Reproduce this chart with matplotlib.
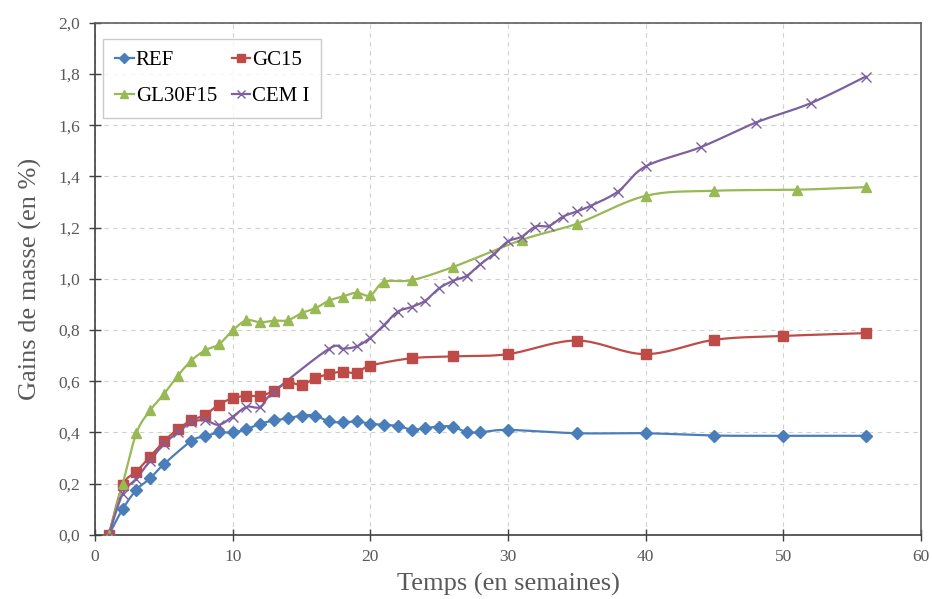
import numpy as np
import matplotlib
matplotlib.use("Agg")
import matplotlib.pyplot as plt
from matplotlib.ticker import FuncFormatter, MultipleLocator

plt.rcParams['font.family'] = ['Liberation Serif', 'DejaVu Serif']

ref_x = [1, 2, 3, 4, 5, 7, 8, 9, 10, 11, 12, 13, 14, 15, 16, 17, 18, 19, 20, 21, 22, 23, 24, 25, 26, 27, 28, 30, 35, 40, 45, 50, 56]
ref_y = [0.0, 0.10, 0.176, 0.221, 0.276, 0.367, 0.385, 0.40, 0.40, 0.413, 0.434, 0.447, 0.455, 0.466, 0.466, 0.443, 0.44, 0.443, 0.434, 0.43, 0.426, 0.411, 0.417, 0.423, 0.423, 0.401, 0.401, 0.41, 0.397, 0.397, 0.388, 0.387, 0.387]

gc_x = [1, 2, 3, 4, 5, 6, 7, 8, 9, 10, 11, 12, 13, 14, 15, 16, 17, 18, 19, 20, 23, 26, 30, 35, 40, 45, 50, 56]
gc_y = [0.0, 0.193, 0.247, 0.306, 0.365, 0.413, 0.447, 0.469, 0.509, 0.534, 0.543, 0.543, 0.563, 0.595, 0.586, 0.612, 0.628, 0.638, 0.632, 0.661, 0.69, 0.697, 0.706, 0.759, 0.706, 0.762, 0.777, 0.788]

gl_x = [1, 2, 3, 4, 5, 6, 7, 8, 9, 10, 11, 12, 13, 14, 15, 16, 17, 18, 19, 20, 21, 23, 26, 31, 35, 40, 45, 51, 56]
gl_y = [0.0, 0.198, 0.397, 0.486, 0.55, 0.621, 0.681, 0.721, 0.744, 0.799, 0.838, 0.83, 0.837, 0.838, 0.866, 0.885, 0.915, 0.931, 0.946, 0.935, 0.988, 0.995, 1.046, 1.152, 1.215, 1.324, 1.344, 1.348, 1.358]

cem_x = [1, 2, 3, 4, 5, 6, 7, 8, 9, 10, 11, 12, 13, 17, 18, 19, 20, 21, 22, 23, 24, 25, 26, 27, 28, 29, 30, 31, 32, 33, 34, 35, 36, 38, 40, 44, 48, 52, 56]
cem_y = [0.0, 0.16, 0.22, 0.29, 0.355, 0.40, 0.44, 0.447, 0.43, 0.462, 0.50, 0.50, 0.56, 0.727, 0.727, 0.736, 0.77, 0.82, 0.872, 0.89, 0.915, 0.963, 0.992, 1.012, 1.057, 1.098, 1.146, 1.165, 1.204, 1.207, 1.243, 1.263, 1.285, 1.341, 1.439, 1.514, 1.61, 1.686, 1.79]

series_names = ["REF", "GC15", "GL30F15", "CEM I"]
colors = ["#4A7EBB", "#BE4B48", "#98B954", "#7D60A0"]


def smooth(x, y, n=20):
    """Bezier smoothing similar to spreadsheet 'smoothed lines' (Catmull-Rom)."""
    x = np.asarray(x, float)
    y = np.asarray(y, float)
    P = np.column_stack([x, y])
    out = [P[0]]
    m = len(P)
    for i in range(m - 1):
        p0 = P[i - 1] if i > 0 else P[i]
        p1 = P[i]
        p2 = P[i + 1]
        p3 = P[i + 2] if i + 2 < m else P[i + 1]
        c1 = p1 + (p2 - p0) / 6.0
        c2 = p2 - (p3 - p1) / 6.0
        t = np.linspace(0, 1, n)[1:, None]
        seg = ((1 - t) ** 3) * p1 + 3 * ((1 - t) ** 2) * t * c1 + 3 * (1 - t) * t ** 2 * c2 + t ** 3 * p2
        out.extend(seg)
    out = np.array(out)
    return out[:, 0], out[:, 1]


fig = plt.figure(figsize=(9.32, 5.99), dpi=100)
ax = fig.add_axes([0.102, 0.107, 0.886, 0.855])

data = [(ref_x, ref_y), (gc_x, gc_y), (gl_x, gl_y), (cem_x, cem_y)]
markers = ["D", "s", "^", "x"]
msizes = [6, 7.5, 7.5, 7.5]
handles = []
for (xs, ys), name, c, mk, ms in zip(data, series_names, colors, markers, msizes):
    sx, sy = smooth(xs, ys)
    ax.plot(sx, sy, color=c, lw=1.6, zorder=3)
    kw = dict(marker=mk, ms=ms, color=c, ls="none", zorder=4)
    if mk == "x":
        kw.update(mew=1.0)
    else:
        kw.update(mec=c)
    ax.plot(xs, ys, **kw)
    h, = ax.plot([], [], color=c, lw=1.6, marker=mk, ms=ms * 0.8,
                 mew=1.0 if mk == "x" else None, label=name)
    handles.append(h)

ax.set_xlim(0, 60)
ax.set_ylim(0, 2.0)
ax.xaxis.set_major_locator(MultipleLocator(10))
ax.yaxis.set_major_locator(MultipleLocator(0.2))
ax.yaxis.set_major_formatter(FuncFormatter(lambda v, p: f"{v:.1f}".replace(".", ",")))
ax.grid(True, ls=(0, (4, 4)), color="#d0d0d0", lw=0.8, zorder=0)
ax.tick_params(direction="inout", length=9, width=1.0, labelsize=12.5,
               labelcolor="#595959", color="#404040", pad=6)
for s in ["left", "bottom"]:
    ax.spines[s].set_color("#404040")
    ax.spines[s].set_linewidth(1.2)
for s in ["top", "right"]:
    ax.spines[s].set_color("#606060")
    ax.spines[s].set_linewidth(1.2)

ax.set_xlabel("Temps (en semaines)", fontsize=19, color="#595959", labelpad=5)
ax.set_ylabel("Gains de masse (en %)", fontsize=19, color="#595959", labelpad=12)

order = [handles[0], handles[2], handles[1], handles[3]]
leg = ax.legend(handles=order, labels=[h.get_label() for h in order], ncol=2,
                loc="upper left", bbox_to_anchor=(0.0, 0.985), fontsize=15,
                frameon=True, fancybox=False, edgecolor="#bfbfbf",
                handlelength=0.9, handletextpad=0.1, columnspacing=0.7,
                borderpad=0.55, labelspacing=0.8, borderaxespad=0.4)
leg.get_frame().set_linewidth(1.0)

fig.savefig("out.png", dpi=100)
